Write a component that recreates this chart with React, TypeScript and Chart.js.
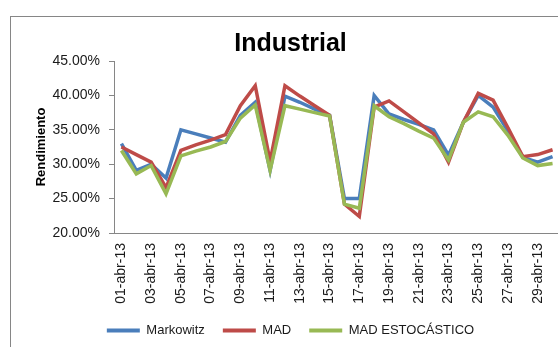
import React, { useEffect, useRef } from "react";
import { Chart, registerables } from "chart.js";

Chart.register(...registerables);

// Trading days of April 2013 shown on the category axis
const DAYS = [
  "01-abr-13", "02-abr-13", "03-abr-13", "04-abr-13", "05-abr-13",
  "06-abr-13", "07-abr-13", "08-abr-13", "09-abr-13", "10-abr-13",
  "11-abr-13", "12-abr-13", "13-abr-13", "14-abr-13", "15-abr-13",
  "16-abr-13", "17-abr-13", "18-abr-13", "19-abr-13", "20-abr-13",
  "21-abr-13", "22-abr-13", "23-abr-13", "24-abr-13", "25-abr-13",
  "26-abr-13", "27-abr-13", "28-abr-13", "29-abr-13", "30-abr-13",
];

// Portfolio returns (%) for each model
const MARKOWITZ = [
  33.0, 29.1, 30.0, 28.0, 35.0, 34.4, 33.8, 33.2, 37.1, 39.0,
  29.1, 39.9, 39.0, 38.0, 37.1, 25.0, 25.0, 40.0, 37.3, 36.5,
  35.8, 35.0, 31.3, 36.1, 40.0, 38.3, 34.8, 31.0, 30.3, 31.1,
];
const MAD = [
  32.5, 31.4, 30.3, 26.6, 32.0, 32.8, 33.5, 34.3, 38.5, 41.4,
  30.4, 41.4, 39.9, 38.5, 37.1, 24.2, 22.4, 38.3, 39.2, 37.6,
  36.0, 34.4, 30.3, 36.1, 40.3, 39.3, 35.3, 31.1, 31.4, 32.1,
];
const MAD_ESTOCASTICO = [
  32.0, 28.6, 29.8, 25.7, 31.2, 31.9, 32.5, 33.3, 36.7, 38.6,
  29.1, 38.5, 38.0, 37.5, 37.0, 24.2, 23.6, 38.5, 36.9, 35.9,
  34.8, 33.8, 30.6, 36.1, 37.6, 36.9, 34.2, 30.9, 29.8, 30.1,
];

const SERIES_NAMES = ["Markowitz", "MAD", "MAD ESTOCÁSTICO"];
const SERIES_COLORS = ["#4A7EBB", "#BE4B48", "#98B954"];

const Y_MIN = 20;
const Y_MAX = 45;
const Y_STEP = 5;

const FONT = "'Liberation Sans', Arial, sans-serif";
const TEXT = "#1a1a1a";
const AXIS = "#868686";

export default function App() {
  const canvasRef = useRef<HTMLCanvasElement | null>(null);

  useEffect(() => {
    const canvas = canvasRef.current;
    if (!canvas) return;
    const values = [MARKOWITZ, MAD, MAD_ESTOCASTICO];
    const chart = new Chart(canvas, {
      type: "line",
      data: {
        labels: DAYS,
        datasets: values.map((data, i) => ({
          label: SERIES_NAMES[i],
          data,
          borderColor: SERIES_COLORS[i],
          backgroundColor: SERIES_COLORS[i],
          borderWidth: 3.5,
          pointRadius: 0,
          pointHoverRadius: 0,
          tension: 0,
          fill: false,
          // later series are painted over earlier ones
          order: values.length - i,
        })),
      },
      options: {
        responsive: false,
        animation: false,
        devicePixelRatio: 1,
        layout: { padding: { left: 21, right: 20, top: 0, bottom: 0 } },
        plugins: {
          tooltip: { enabled: false },
          title: {
            display: true,
            text: "Industrial",
            color: "#000",
            font: { family: FONT, size: 25, weight: "bold", lineHeight: 1.2 },
            padding: { top: 29, bottom: 2 },
          },
          legend: {
            position: "bottom",
            labels: {
              color: TEXT,
              font: { family: FONT, size: 13 },
              boxWidth: 33,
              boxHeight: 4,
              padding: 18,
              generateLabels: (c: any) =>
                c.data.datasets.map((ds: any, i: number) => ({
                  text: ds.label,
                  fillStyle: ds.borderColor,
                  strokeStyle: ds.borderColor,
                  lineWidth: 0,
                  hidden: false,
                  datasetIndex: i,
                  fontColor: TEXT,
                })),
            },
          },
        },
        scales: {
          x: {
            type: "category",
            offset: true,
            grid: { display: false, drawTicks: false },
            border: { display: true, color: AXIS, width: 1 },
            ticks: {
              autoSkip: false,
              minRotation: 90,
              maxRotation: 90,
              padding: 10,
              color: TEXT,
              font: { family: FONT, size: 14 },
              callback: function (this: any, value: any, index: number) {
                return index % 2 === 0 ? this.getLabelForValue(value) : "";
              },
            },
            afterFit: (scale: any) => {
              scale.height = 73;
            },
          },
          y: {
            min: Y_MIN,
            max: Y_MAX,
            grid: {
              display: true,
              drawOnChartArea: false,
              drawTicks: true,
              tickLength: 5,
              color: AXIS,
            },
            border: { display: true, color: AXIS, width: 1 },
            ticks: {
              stepSize: Y_STEP,
              padding: 9,
              color: TEXT,
              font: { family: FONT, size: 14 },
              callback: (v: any) => `${Number(v).toFixed(2)}%`,
            },
            title: {
              display: true,
              text: "Rendimiento",
              color: "#000",
              font: { family: FONT, size: 13, weight: "bold", lineHeight: 1.2 },
              padding: { top: 13, bottom: 0 },
            },
            afterFit: (scale: any) => {
              scale.width = 93;
            },
          },
        },
      },
    });
    return () => chart.destroy();
  }, []);

  return (
    <div
      style={{
        position: "fixed",
        left: 0,
        top: 0,
        width: 558,
        height: 347,
        overflow: "hidden",
        background: "#fff",
      }}
    >
      <div
        style={{
          position: "absolute",
          left: 10,
          top: 16,
          width: 700,
          height: 500,
          border: `1px solid ${AXIS}`,
          boxSizing: "border-box",
        }}
      />
      <canvas
        ref={canvasRef}
        width={580}
        height={347}
        style={{ position: "absolute", left: 0, top: 0, width: 580, height: 347 }}
      />
    </div>
  );
}
